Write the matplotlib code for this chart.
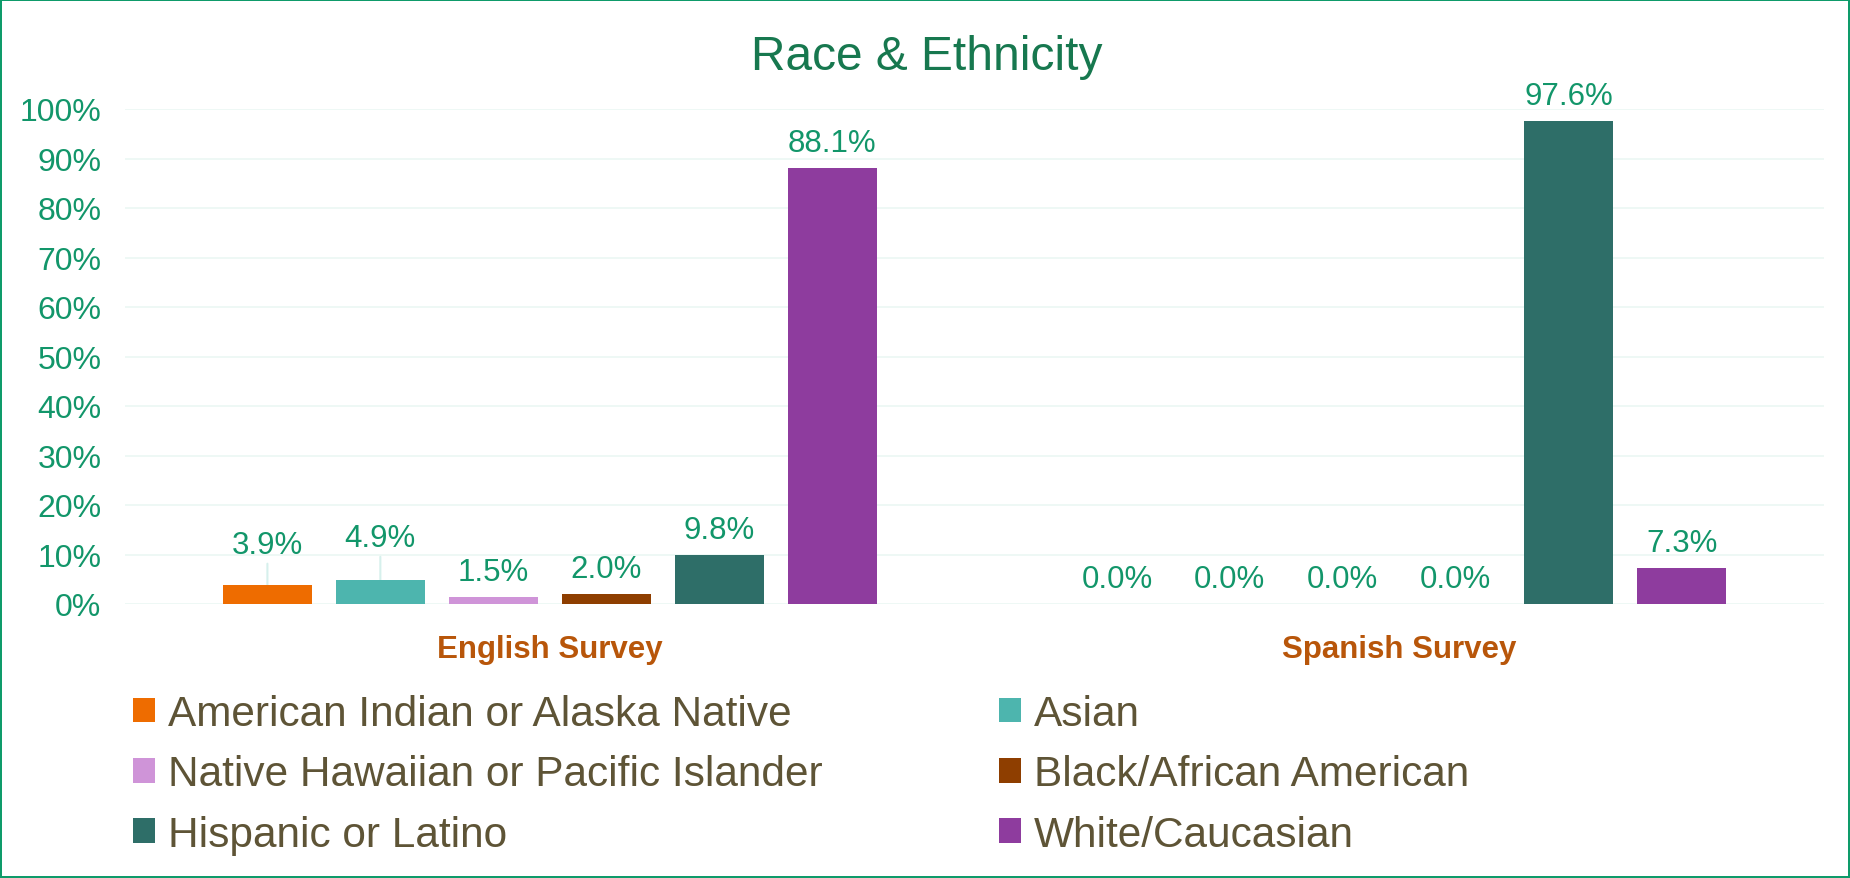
import matplotlib
matplotlib.use("Agg")
import matplotlib.pyplot as plt
from matplotlib.patches import Patch, Rectangle
import numpy as np

# ---------------- data ----------------
categories = ["English Survey", "Spanish Survey"]
series_names = [
    "American Indian or Alaska Native",
    "Asian",
    "Native Hawaiian or Pacific Islander",
    "Black/African American",
    "Hispanic or Latino",
    "White/Caucasian",
]
american_indian = [3.9, 0.0]
asian = [4.9, 0.0]
native_hawaiian = [1.5, 0.0]
black_african = [2.0, 0.0]
hispanic_latino = [9.8, 97.6]
white_caucasian = [88.1, 7.3]
y_ticks = [0, 10, 20, 30, 40, 50, 60, 70, 80, 90, 100]

series_values = [american_indian, asian, native_hawaiian,
                 black_african, hispanic_latino, white_caucasian]

# ---------------- style ----------------
colors = ["#EE6C00", "#4DB5AE", "#CF94D8", "#8E3E00", "#2E6E68", "#8E3C9E"]
label_green = "#12966A"
title_green = "#17784F"
legend_text = "#5E5436"
cat_color = "#B8560A"
grid_color = "#EEF8F5"
font = "Liberation Sans"
PX = 72 / 100.0  # points per pixel

plt.rcParams["font.family"] = [font, "DejaVu Sans"]

W, H = 1850, 879
fig = plt.figure(figsize=(W / 100, H / 100), dpi=100)
fig.patch.set_facecolor("white")

left_px, right_px, top_px, bot_px = 125, 1824, 110, 605
ax = fig.add_axes([left_px / W, 1 - bot_px / H,
                   (right_px - left_px) / W, (bot_px - top_px) / H])

x = np.arange(len(categories))
slot = 113 / 850.0
bw = 89 / 850.0

default_lift = 17   # px between bar top and label baseline
extra_lift = {(0, 0): 15, (1, 0): 17}  # labels lifted with leader lines

for i, (vals, col) in enumerate(zip(series_values, colors)):
    xs = x + (i - 2.5) * slot
    ax.bar(xs, vals, width=bw, color=col, zorder=3)
    for j, (xi, v) in enumerate(zip(xs, vals)):
        lift = default_lift + extra_lift.get((i, j), 0)
        if (i, j) in extra_lift:
            ax.annotate("", xy=(xi, v), xytext=(0, (lift - 11) * PX),
                        textcoords="offset points",
                        arrowprops=dict(arrowstyle="-", color="#D6F0EC",
                                        lw=1.5, shrinkA=0, shrinkB=0),
                        zorder=2)
        ax.annotate(f"{v:.1f}%", xy=(xi, v), xytext=(0, lift * PX),
                    textcoords="offset points", ha="center", va="baseline",
                    fontsize=22.5, color=label_green, annotation_clip=False,
                    zorder=4)

ax.set_xlim(-0.5, len(categories) - 0.5)
ax.set_ylim(0, 100)
ax.set_yticks(y_ticks)
ax.set_yticklabels([f"{t}%" for t in y_ticks], fontsize=23, color=label_green)
ax.set_xticks(x)
ax.set_xticklabels(categories, fontsize=22.5, fontweight="bold", color=cat_color)
ax.tick_params(axis="y", length=0, pad=23.5 * PX)
ax.tick_params(axis="x", length=0, pad=30 * PX)
ax.grid(axis="y", color=grid_color, linewidth=2 * PX, zorder=0)
ax.set_axisbelow(True)
for s in ax.spines.values():
    s.set_visible(False)

# title
fig.text(927 / W, 1 - 57 / H, "Race & Ethnicity", ha="center", va="center",
         fontsize=34.5, color=title_green)

# legend: two columns
handles = [Patch(facecolor=c, edgecolor="none") for c in colors]
fs_leg = 30.5
leg_kw = dict(frameon=False, fontsize=fs_leg, handlelength=22 / (fs_leg / PX),
              handleheight=22 / (fs_leg / PX), handletextpad=13 / (fs_leg / PX),
              labelspacing=0.48, borderpad=0, borderaxespad=0,
              labelcolor=legend_text, loc="upper left")
col1 = [0, 2, 4]
col2 = [1, 3, 5]
leg_top = 695
leg1 = fig.legend([handles[k] for k in col1], [series_names[k] for k in col1],
                  bbox_to_anchor=(133 / W, 1 - leg_top / H), **leg_kw)
leg2 = fig.legend([handles[k] for k in col2], [series_names[k] for k in col2],
                  bbox_to_anchor=(999 / W, 1 - leg_top / H), **leg_kw)

# figure border
fig.patches.append(Rectangle((0.0008, 0.001), 0.9984, 0.998, transform=fig.transFigure,
                             fill=False, edgecolor="#0E9B6A", linewidth=2 * PX))

fig.savefig("out.png", dpi=100, facecolor="white")
